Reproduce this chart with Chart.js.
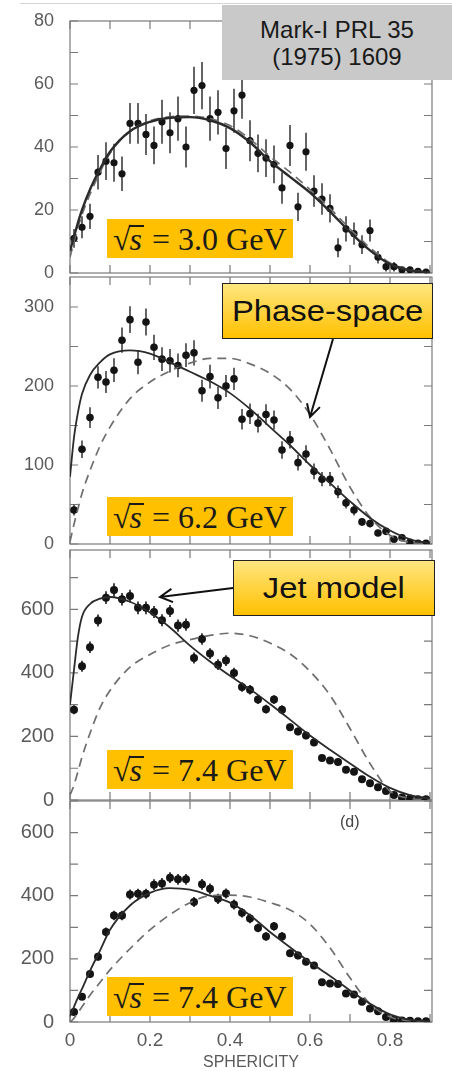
<!DOCTYPE html>
<html lang="en">
<head>
  <meta charset="UTF-8">
  <title>Mark-I sphericity distributions</title>
  <script src="https://cdn.jsdelivr.net/npm/chart.js@4.4.0/dist/chart.umd.min.js"></script>
  <style>
    body {
      margin: 0;
      width: 452px;
      height: 1071px;
      position: relative;
      overflow: hidden;
      background: #fff;
      font-family: "Liberation Sans", Arial, sans-serif;
    }
    .panel { position: absolute; left: 0; width: 452px; }
    .energy {
      position: absolute;
      left: 107px;
      width: 186px;
      height: 39px;
      background: #ffc000;
      font-family: "Liberation Serif", "Times New Roman", serif;
      font-size: 32px;
      line-height: 40px;
      color: #1a1a1a;
      white-space: nowrap;
      padding-left: 6px;
      box-sizing: border-box;
      z-index: 5;
    }
    .energy .s {
      display: inline-block;
      font-style: italic;
      line-height: 24px;
      border-top: 2px solid #1a1a1a;
      margin-left: -2px;
      padding: 0 2px 0 1px;
    }
    .callout {
      position: absolute;
      border: 1.5px solid #222;
      background: linear-gradient(#ffe680, #ffc000);
      box-sizing: border-box;
      display: flex;
      align-items: center;
      justify-content: center;
      font-size: 29px;
      color: #111;
      z-index: 5;
    }
    .callout span { display: inline-block; transform: scaleX(1.13); }
    #ref {
      position: absolute;
      left: 222px; top: 5px; width: 230px; height: 75px;
      background: #c9c9c9;
      display: flex; flex-direction: column; justify-content: center; align-items: center;
      font-size: 24px; line-height: 27px; color: #1a1a1a;
      z-index: 5;
    }
    #arrows { position: absolute; left: 0; top: 0; z-index: 6; }
  </style>
</head>
<body>
  <div style="position:absolute;left:20px;top:3px;width:432px;height:1px;background:#d4d4d4"></div>

  <div class="panel" style="top:0;height:290px"><canvas id="p1"></canvas></div>
  <div class="panel" style="top:262px;height:298px"><canvas id="p2"></canvas></div>
  <div class="panel" style="top:535px;height:282px"><canvas id="p3"></canvas></div>
  <div class="panel" style="top:786px;height:285px"><canvas id="p4"></canvas></div>

  <div id="ref"><div>Mark-I PRL 35</div><div>(1975) 1609</div></div>

  <div class="energy" style="top:219px">√<span class="s">s</span> = 3.0 GeV</div>
  <div class="energy" style="top:497px">√<span class="s">s</span> = 6.2 GeV</div>
  <div class="energy" style="top:750px">√<span class="s">s</span> = 7.4 GeV</div>
  <div class="energy" style="top:977px">√<span class="s">s</span> = 7.4 GeV</div>

  <div class="callout" style="left:222px;top:283px;width:211px;height:56px"><span>Phase-space</span></div>
  <div class="callout" style="left:233px;top:560px;width:202px;height:56px"><span>Jet model</span></div>

  <div style="position:absolute;left:340px;top:813px;font-size:16px;color:#444;z-index:5">(d)</div>

  <svg id="arrows" width="452" height="1071"></svg>

  <script>
    // bin centres (sphericity)
    const sphericity = [0.01, 0.03, 0.05, 0.07, 0.09, 0.11, 0.13, 0.15, 0.17, 0.19,
      0.21, 0.23, 0.25, 0.27, 0.29, 0.31, 0.33, 0.35, 0.37, 0.39,
      0.41, 0.43, 0.45, 0.47, 0.49, 0.51, 0.53, 0.55, 0.57, 0.59,
      0.61, 0.63, 0.65, 0.67, 0.69, 0.71, 0.73, 0.75, 0.77, 0.79,
      0.81, 0.83, 0.85, 0.87, 0.89];
    const xTicks = [0, 0.1, 0.2, 0.3, 0.4, 0.5, 0.6, 0.7, 0.8, 0.9];

    // sample points of the model curves
    const curveX = [0, 0.01, 0.02, 0.03, 0.05, 0.075, 0.1, 0.15, 0.2, 0.25, 0.3, 0.35,
      0.4, 0.45, 0.5, 0.55, 0.6, 0.65, 0.7, 0.75, 0.8, 0.85, 0.9];

    // 3.0 GeV
    const data30 = [11, 14.5, 18, 32, 35.5, 35, 31.5, 47.5, 47.5, 44, 40.5, 48, 44.5, 49, 40,
      58, 59.5, 49, 51, 39.5, 51.5, 56.5, 42, 38, 36.5, 34.5, 27, 40.5, 21, 38.5,
      26, 23.5, 20.5, 8, 14, 12.5, 9, 13.5, 5, 2, 2, 1, 1, 0.5, 0.3];
    const err30 = [3, 3.5, 4, 5.5, 6, 6, 5.5, 6.5, 6.5, 6.5, 6, 7, 6.5, 7, 6.5, 7.5, 7.5, 7, 7, 6.5,
      7, 7.5, 6.5, 6, 6, 6, 5, 6.5, 4.5, 6, 5, 5, 4.5, 3, 4, 3.5, 3, 3.5, 2, 1.5, 1.5, 1, 1, 0.5, 0.5];
    const jet30 = [7, 11.5, 16, 20, 26.5, 33, 38.5, 45, 48, 49.3, 49.5, 48.5, 46, 41.5, 35.5, 30.5,
      25.5, 19.5, 13, 7.2, 2.8, 0.8, 0.2];
    const ps30 = [5, 10, 14.5, 18.5, 25, 32, 38, 45, 48.3, 49.6, 49.8, 49, 46.8, 42.5, 37, 32,
      26.5, 20.5, 14, 8, 3.2, 1, 0.2];

    // 6.2 GeV
    const data62 = [43, 120, 160, 211, 205, 220, 258, 284, 230, 281, 249, 234, 232, 226, 239,
      242, 194, 212, 185, 200, 209, 158, 165, 153, 164, 157, 119, 132, 103, 114,
      92, 82, 82, 66, 52, 43, 28, 26, 14, 16, 6, 8, 2, 1, 1];
    const err62 = [7, 11, 13, 14, 14, 15, 16, 17, 15, 17, 16, 15, 15, 15, 15, 16, 14, 15, 14, 14,
      14, 13, 13, 12, 13, 12, 11, 11, 10, 11, 10, 9, 9, 8, 7, 7, 5, 5, 4, 4, 3, 3, 1, 1, 1];
    const jet62 = [85, 135, 167, 190, 214, 230, 240, 245, 241, 230, 218, 206, 191, 171, 148, 125,
      100, 77, 54, 33, 17, 6, 1];
    const ps62 = [3, 25, 45, 64, 93, 124, 148, 184, 205, 219, 229, 235, 235, 228, 216, 196,
      164, 120, 72, 34, 11, 2, 0];

    // 7.4 GeV
    const data74 = [284, 421, 481, 565, 637, 661, 632, 642, 605, 605, 592, 566, 595, 549, 552,
      447, 507, 461, 426, 439, 400, 356, 347, 316, 286, 316, 284, 229, 216, 203,
      181, 132, 124, 120, 95, 89, 65, 53, 40, 28, 16, 8, 5, 2, 2];
    const err74 = [14, 17, 18, 19, 20, 21, 20, 20, 20, 20, 19, 19, 19, 19, 19, 17, 18, 17, 17, 17,
      16, 15, 15, 14, 14, 14, 14, 12, 12, 12, 11, 10, 9, 9, 8, 8, 7, 6, 5, 4, 3, 2, 2, 1, 1];
    const jet74 = [300, 410, 515, 577, 617, 634, 639, 624, 590, 543, 486, 436, 391, 349, 302, 253,
      203, 158, 115, 73, 38, 15, 5];
    const ps74 = [15, 47, 90, 135, 210, 290, 345, 418, 458, 488, 505, 518, 525, 517, 494, 460,
      405, 330, 225, 115, 28, 5, 1];

    // 7.4 GeV, panel (d)
    const data74d = [32, 80, 152, 207, 285, 337, 337, 404, 406, 406, 435, 439, 457, 452, 452,
      380, 436, 422, 390, 407, 372, 346, 328, 298, 271, 303, 271, 218, 211, 191,
      179, 126, 122, 120, 90, 87, 64, 43, 34, 16, 7, 5, 4, 2, 2];
    const err74d = [5, 8, 11, 12, 14, 15, 15, 16, 16, 16, 17, 17, 17, 17, 17, 16, 17, 17, 16, 16,
      16, 15, 15, 14, 14, 14, 14, 12, 12, 11, 11, 9, 9, 9, 8, 8, 7, 5, 5, 3, 2, 2, 2, 1, 1];
    const jet74d = [18, 48, 78, 105, 162, 226, 292, 369, 409, 424, 419, 400, 378, 338, 285, 237,
      189, 146, 100, 58, 24, 7, 2];
    const ps74d = [0, 12, 30, 48, 85, 125, 165, 232, 292, 340, 378, 400, 402, 396, 378, 355,
      310, 235, 140, 58, 16, 4, 1];

    function pts(xs, ys) {
      return xs.map((x, i) => ({ x: x, y: ys[i] }));
    }

    // box with inward ticks on all four sides
    const frame = {
      id: 'frame',
      beforeDatasetsDraw(chart) {
        const { ctx, chartArea, scales } = chart;
        const { left, right, top, bottom } = chartArea;
        ctx.save();
        ctx.strokeStyle = '#7a7a7a';
        ctx.lineWidth = 1.2;
        ctx.strokeRect(left, top, right - left, bottom - top);
        ctx.beginPath();
        xTicks.forEach(v => {
          const px = scales.x.getPixelForValue(v);
          ctx.moveTo(px, bottom); ctx.lineTo(px, bottom - 8);
          ctx.moveTo(px, top); ctx.lineTo(px, top + 8);
        });
        scales.y.ticks.forEach(t => {
          const py = scales.y.getPixelForValue(t.value);
          ctx.moveTo(left, py); ctx.lineTo(left + 8, py);
          ctx.moveTo(right, py); ctx.lineTo(right - 8, py);
        });
        ctx.stroke();
        ctx.restore();
      }
    };

    // vertical error bars, drawn under the markers
    const errorBars = {
      id: 'errorBars',
      beforeDatasetDraw(chart, args) {
        const ds = chart.data.datasets[args.index];
        if (!ds.errors) return;
        const { ctx } = chart;
        const y = chart.scales.y;
        ctx.save();
        ctx.strokeStyle = ds.errorColor;
        ctx.lineWidth = 1.8;
        ctx.beginPath();
        args.meta.data.forEach((pt, i) => {
          const v = ds.data[i].y, e = ds.errors[i];
          ctx.moveTo(pt.x, y.getPixelForValue(v - e));
          ctx.lineTo(pt.x, y.getPixelForValue(v + e));
        });
        ctx.stroke();
        ctx.restore();
      }
    };

    function makePanel(id, opt) {
      const last = !!opt.last;
      return new Chart(document.getElementById(id), {
        type: 'scatter',
        data: {
          datasets: [
            {
              type: 'line',
              data: pts(curveX, opt.jet),
              borderColor: '#2b2b2b',
              borderWidth: opt.jetWidth,
              pointRadius: 0,
              cubicInterpolationMode: 'monotone'
            },
            {
              type: 'line',
              data: pts(curveX, opt.ps),
              borderColor: '#6e6e6e',
              borderWidth: 1.7,
              borderDash: [9, 6],
              pointRadius: 0,
              cubicInterpolationMode: 'monotone'
            },
            {
              data: pts(sphericity, opt.data),
              errors: opt.errors,
              errorColor: opt.errorColor,
              pointRadius: opt.radius,
              backgroundColor: '#141414',
              borderWidth: 0
            }
          ]
        },
        options: {
          responsive: true,
          maintainAspectRatio: false,
          animation: false,
          layout: { padding: { top: opt.padTop, bottom: opt.padBottom, left: 0, right: 20 } },
          plugins: { legend: { display: false }, tooltip: { enabled: false } },
          scales: {
            x: {
              type: 'linear',
              min: 0,
              max: 0.905,
              display: last,
              grid: { display: false, drawTicks: false },
              border: { display: false },
              ticks: {
                stepSize: 0.1,
                includeBounds: false,
                padding: 7,
                color: '#5a5a5a',
                font: { family: 'Liberation Sans', size: 19 },
                callback: v => {
                  const k = Math.round(v * 10);
                  if (k % 2 !== 0) return '';
                  return k === 0 ? '0' : (k / 10).toFixed(1);
                }
              },
              title: {
                display: last,
                text: 'SPHERICITY',
                color: '#5a5a5a',
                font: { family: 'Liberation Sans', size: 16, lineHeight: 1 },
                padding: { top: 0, bottom: 0 }
              },
              afterFit: s => {
                if (last) s.height = 49;
                s.paddingLeft = 0;
                s.paddingRight = 0;
              }
            },
            y: {
              min: 0,
              max: opt.yMax,
              grid: { display: false, drawTicks: false },
              border: { display: false },
              ticks: {
                stepSize: opt.step,
                includeBounds: false,
                padding: 16,
                color: '#5a5a5a',
                font: { family: 'Liberation Sans', size: opt.font },
                callback: v => (Math.round(v) % opt.label === 0 ? Math.round(v) : '')
              },
              // fixed axis width, and no extra room for the end labels
              afterFit: s => {
                s.width = 70;
                s.paddingTop = 0;
                s.paddingBottom = 0;
              }
            }
          }
        },
        plugins: [frame, errorBars]
      });
    }

    makePanel('p1', { data: data30, errors: err30, jet: jet30, ps: ps30, yMax: 80, step: 10, label: 20,
      font: 18, padTop: 21, padBottom: 17, radius: 3.6, jetWidth: 2.4, errorColor: '#555' });
    makePanel('p2', { data: data62, errors: err62, jet: jet62, ps: ps62, yMax: 338, step: 50, label: 100,
      font: 18, padTop: 15, padBottom: 16, radius: 3.8, jetWidth: 1.8, errorColor: '#555' });
    makePanel('p3', { data: data74, errors: err74, jet: jet74, ps: ps74, yMax: 787, step: 100, label: 200,
      font: 20, padTop: 15, padBottom: 17, radius: 4, jetWidth: 1.8, errorColor: '#333' });
    makePanel('p4', { data: data74d, errors: err74d, jet: jet74d, ps: ps74d, yMax: 700, step: 100, label: 200,
      font: 20, padTop: 15, padBottom: 0, radius: 4, jetWidth: 1.8, errorColor: '#333', last: true });

    // callout arrows
    const svg = document.getElementById('arrows');
    function arrow(x1, y1, x2, y2) {
      const ns = 'http://www.w3.org/2000/svg';
      const a = Math.atan2(y2 - y1, x2 - x1);
      const len = 14, spread = 0.5;
      const d = `M${x1},${y1} L${x2},${y2} ` +
        `M${x2 - len * Math.cos(a - spread)},${y2 - len * Math.sin(a - spread)} L${x2},${y2} ` +
        `L${x2 - len * Math.cos(a + spread)},${y2 - len * Math.sin(a + spread)}`;
      const p = document.createElementNS(ns, 'path');
      p.setAttribute('d', d);
      p.setAttribute('fill', 'none');
      p.setAttribute('stroke', '#111');
      p.setAttribute('stroke-width', '2');
      svg.appendChild(p);
    }
    arrow(333, 339, 310, 417);
    arrow(233, 588, 160, 597);
  </script>
</body>
</html>
